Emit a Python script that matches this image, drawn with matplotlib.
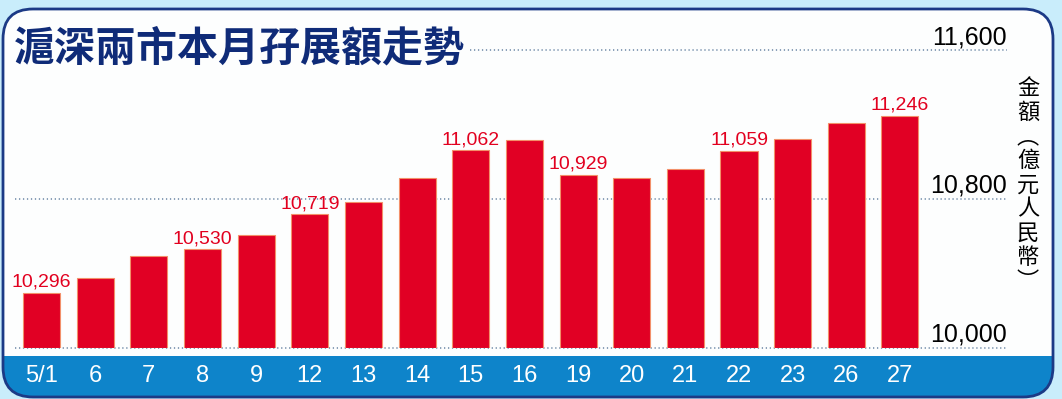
import numpy as np
import matplotlib.pyplot as plt
from matplotlib.patches import FancyBboxPatch, Rectangle
import matplotlib.transforms as mtransforms

# data
days = ['5/1', '6', '7', '8', '9', '12', '13', '14', '15', '16',
        '19', '20', '21', '22', '23', '26', '27']
amounts = [10296, 10377, 10494, 10530, 10607, 10719, 10782, 10911, 11062,
           11117, 10929, 10911, 10959, 11059, 11122, 11206, 11246]
labelled_days = ['5/1', '8', '12', '15', '19', '22', '27']
y_ticks = [10000, 10800, 11600]
y_tick_labels = ['10,000', '10,800', '11,600']
title = '滬深兩市本月孖展額走勢'
unit_label = '金額︵億元人民幣︶'

W, H = 1062, 399
NAVY = '#1c3a86'
RED = '#e2001f'
STRIP = '#0e84ca'
CJK = ['Noto Sans CJK TC', 'DejaVu Sans']
NUM = ['Liberation Sans', 'DejaVu Sans']

fig = plt.figure(figsize=(W / 100, H / 100), dpi=100)
fig.patch.set_facecolor('#c9edfb')

# background axes in pixel units: panel, strip, title, unit label
bg = fig.add_axes([0, 0, 1, 1])
bg.set_xlim(0, W)
bg.set_ylim(H, 0)
bg.axis('off')

panel = FancyBboxPatch((3, 9), 1050, 388, boxstyle='round,pad=0,rounding_size=30',
                       fc='#fdfefe', ec='none', zorder=1)
bg.add_patch(panel)
strip = Rectangle((0, 356), W, 45, fc=STRIP, ec='none', zorder=2)
bg.add_patch(strip)
strip.set_clip_path(panel)
bg.add_patch(FancyBboxPatch((3, 9), 1050, 388, boxstyle='round,pad=0,rounding_size=30',
                            fc='none', ec=NAVY, lw=2, zorder=3))

bg.text(14, 48, title, ha='left', va='center', fontsize=29.5, weight='black',
        color='#0f2b78', family=CJK, zorder=4)
bg.text(1028, 185, '\n'.join(unit_label), ha='center', va='center', fontsize=16,
        linespacing=1.06, color='black', family=CJK, zorder=4)

# main chart axes
left_px, right_px, top_px, bottom_px = 14.7, 1007, 50, 348
ax = fig.add_axes([left_px / W, (H - bottom_px) / H,
                   (right_px - left_px) / W, (bottom_px - top_px) / H])
ax.patch.set_alpha(0)
ax.set_xlim(-0.5, 17.995)
ax.set_ylim(y_ticks[0], y_ticks[-1])
for s in ax.spines.values():
    s.set_visible(False)
ax.set_xticks([])
ax.set_yticks([])

x = np.arange(len(days))
base = y_ticks[0]
ax.bar(x, np.array(amounts) - base, bottom=base, width=0.69, color='#e10024',
       edgecolor='#f3906a', linewidth=0.8, zorder=3)

# dotted gridlines; the top one starts after the title
title_end = (470 - left_px) / (right_px - left_px)
for v in y_ticks:
    xmin = title_end if v == y_ticks[-1] else 0
    ax.axhline(v, xmin=xmin, xmax=1, color='#8098b2', lw=1.3,
               linestyle=(0, (0.7, 1.5)), zorder=1, clip_on=False)

ytrans = mtransforms.offset_copy(ax.get_yaxis_transform(), fig=fig, x=0, y=6, units='dots')
for v, lab in zip(y_ticks, y_tick_labels):
    ax.text(1.0, v, lab, transform=ytrans, ha='right', va='baseline', fontsize=18,
            family=NUM, color='black', clip_on=False)

xtrans = ax.get_xaxis_transform()
for xi, d in zip(x, days):
    ax.text(xi, -28 / (bottom_px - top_px), d, transform=xtrans, ha='center', va='center',
            fontsize=17, family=NUM, color='white', clip_on=False)

for xi, d, v in zip(x, days, amounts):
    if d in labelled_days:
        ax.annotate(f'{v:,}', (xi, v), xytext=(0, 1.5), textcoords='offset points',
                    ha='center', va='bottom', fontsize=14, family=NUM, color=RED,
                    annotation_clip=False)

fig.savefig('out.png', dpi=100, facecolor=fig.get_facecolor())
